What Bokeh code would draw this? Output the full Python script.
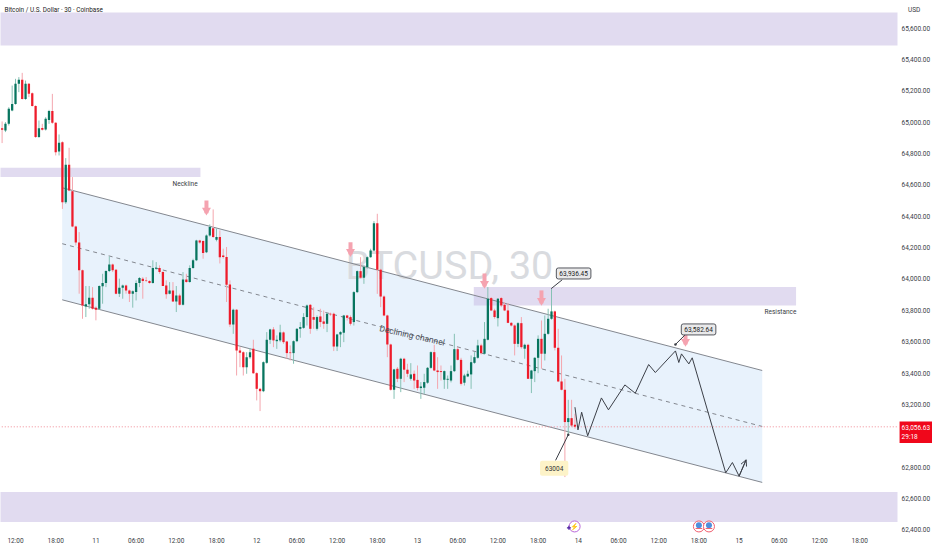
from bokeh.plotting import figure
from bokeh.embed import file_html
from bokeh.resources import INLINE
from bokeh.models import Label, FixedTicker, Arrow, OpenHead, NumeralTickFormatter
from bokeh.core.properties import value

FONT = "Roboto"

first_bar = -4
opens = [64962,64947,64990,65075,65117,65245,65271,65149,65245,65185,65103,64905,64964,64954,65015,65071,64996,64813,64873,64490,64728,64560,
64335,64233,64055,63825,63838,63880,63817,63810,63953,63974,64051,64093,64059,63906,63944,63959,63927,63906,63917,63974,
64002,63991,63987,63974,64065,64070,64044,63959,63906,63927,63857,63895,63836,63997,63980,64070,64119,64246,64242,64170,
64278,64324,64250,64267,64150,64140,63965,63710,63803,63544,63533,63437,63501,63554,63399,63299,63284,63465,63612,63678,
63603,63608,63659,63601,63531,63527,63603,63682,63688,63757,63835,63757,63682,63761,63729,63714,63778,63778,63569,63646,
63657,63767,63757,63725,63916,64050,64008,64076,64139,64182,64356,64059,63888,63767,63582,63293,63427,63363,63491,63421,
63363,63395,63356,63304,63306,63338,63433,63533,63416,63412,63357,63357,63352,63412,63552,63484,63338,63378,63391,63465,
63497,63576,63523,63612,63878,63799,63750,63878,63835,63799,63720,63703,63586,63718,63555,63580,63363,63412,63497,63618,
63523,63650,63746,63793,63561,63346,63293,63087,63112,63070]
highs = [65005,65001,65096,65234,65277,65288,65315,65266,65250,65190,65108,65011,64990,65032,65079,65181,65000,64922,64878,64771,64837,64650,
64340,64299,64060,63955,63955,63948,63825,63959,64033,64055,64144,64098,64064,64002,63964,63964,63932,63927,63991,64012,
64012,64012,63991,64119,64108,64087,64049,63991,63980,63980,63955,63906,64044,64033,64087,64129,64250,64250,64246,64284,
64348,64444,64322,64310,64193,64204,63991,63810,63808,63565,63538,63533,63559,63612,63405,63305,63474,63661,63682,63693,
63640,63708,63665,63605,63576,63608,63686,63725,63782,63837,63840,63820,63767,63810,63799,63782,63785,63785,63650,63667,
63771,63771,63767,63922,64054,64139,64086,64144,64193,64369,64416,64065,63895,63772,63587,63427,63438,63497,63497,63459,
63463,63416,63448,63342,63395,63438,63538,63580,63501,63448,63416,63384,63448,63650,63565,63497,63395,63416,63512,63533,
63612,63587,63725,63948,63885,63810,63878,63885,63852,63846,63725,63710,63725,63757,63587,63587,63420,63501,63640,63735,
63767,63810,63936,63798,63682,63512,63363,63229,63229,63140]
lows = [64867,64937,64979,65070,65112,65192,65145,65143,65160,65100,64900,64900,64947,64947,64990,64990,64788,64788,64447,64479,64560,64330,
64214,63906,63746,63757,63810,63805,63736,63804,63842,63948,64044,64044,63902,63885,63874,63906,63853,63817,63863,63948,
63874,63980,63970,63970,64059,64033,63955,63874,63902,63853,63789,63831,63831,63976,63976,64065,64114,64225,64129,64165,
64270,64262,64240,64099,64130,63853,63693,63650,63384,63437,63384,63395,63491,63395,63225,63157,63278,63459,63586,63565,
63554,63597,63586,63491,63480,63459,63597,63625,63682,63703,63650,63682,63671,63693,63682,63661,63765,63540,63540,63565,
63597,63735,63703,63703,63910,64003,63969,64065,64135,64178,63905,63820,63762,63501,63288,63235,63342,63278,63342,63374,
63352,63299,63289,63235,63267,63331,63427,63412,63299,63352,63299,63299,63340,63406,63480,63320,63320,63374,63299,63459,
63491,63518,63518,63608,63795,63746,63697,63820,63795,63718,63697,63512,63565,63555,63491,63363,63272,63342,63399,63427,
63480,63644,63740,63544,63342,63289,62736,63012,63055,63044]
closes = [64952,64990,65086,65117,65245,65271,65149,65245,65181,65103,64905,64962,64952,65022,65071,64996,64809,64869,64490,64728,64564,64335,
64233,64055,63831,63838,63880,63810,63804,63955,63974,64051,64093,64055,63906,63944,63959,63927,63906,63921,63974,64006,
63987,63987,63974,64070,64072,64044,63955,63902,63927,63857,63895,63836,63997,63980,64070,64119,64246,64233,64165,64278,
64331,64267,64267,64139,64140,63963,63710,63803,63544,63529,63437,63501,63533,63399,63299,63284,63469,63612,63678,63608,
63612,63659,63597,63527,63527,63603,63682,63693,63757,63831,63682,63740,63757,63725,63714,63778,63774,63569,63646,63661,
63767,63752,63714,63916,64050,64008,64076,64139,64182,64356,64059,63888,63767,63582,63293,63423,63363,63491,63421,63395,
63391,63352,63304,63314,63342,63433,63533,63416,63406,63406,63412,63363,63412,63552,63484,63331,63384,63395,63469,63501,
63576,63527,63618,63874,63799,63757,63874,63831,63799,63720,63703,63586,63718,63565,63580,63363,63416,63497,63618,63523,
63650,63746,63793,63561,63346,63293,63087,63112,63065,63056]

last_price = 63056.63
price_ticks = [62400,62600,62800,63200,63400,63600,63800,64000,64200,64400,64600,64800,65000,65200,65400,65600]
time_labels = ["12:00","18:00","11","06:00","12:00","18:00","12","06:00","12:00","18:00","13","06:00",
               "12:00","18:00","14","06:00","12:00","18:00","15","06:00","12:00","18:00"]
bars_per_label = 12
pane_end = 263.28

band_left = [-5, 136.8, -5, -5]
band_right = [55.2, 233, pane_end, pane_end]
band_top = [64710, 63948, 65700, 62640]
band_bottom = [64650, 63831, 65490, 62449]

channel_x = [13.94, 222.9]
channel_top = [64582, 63416]
channel_mid = [64225, 63059]
channel_bottom = [63867, 62702]

path_x = [167,167.9,169,170.8,174.9,177,181.9,185,189,191,197,198,198.8,201,202,212,214,216,218.1]
path_y = [63182,63037,63150,62999,63241,63165,63324,63271,63454,63403,63541,63467,63522,63458,63497,62763,62829,62742,62846]

marker_x = [57,100,140,157,200]
marker_top = [64501,64235,64035,63927,63652]
marker_tip = [64420,64156,63952,63844,63582]

RED, GREEN = "#ee1c2b", "#08755f"
PALE_RED, PALE_GREEN = "#f4a6ae", "#86c1b4"
TEXT = "#3a3d45"

p = figure(frame_width=932, frame_height=533, width=932, height=550, output_backend="svg", toolbar_location=None,
           x_range=(-4.48, 273.73), y_range=(62376, 65776.7), y_axis_location="right",
           min_border_left=0, min_border_top=0, min_border_right=0, min_border_bottom=17,
           outline_line_color=None, background_fill_color="white", border_fill_color="white")
p.grid.visible = False

for ax in (p.xaxis[0], p.yaxis[0]):
    ax.axis_line_color = None
    ax.major_tick_line_color = None
    ax.minor_tick_line_color = None
    ax.major_tick_out = 0
    ax.major_tick_in = 0
    ax.minor_tick_out = 0
    ax.minor_tick_in = 0
    ax.major_label_text_font = FONT
    ax.major_label_text_font_size = "6.5px"
    ax.major_label_text_color = TEXT
p.xaxis[0].major_label_standoff = 3
p.yaxis[0].major_label_standoff = -31

tick_positions = [i * bars_per_label for i in range(len(time_labels))]
p.xaxis[0].ticker = FixedTicker(ticks=tick_positions)
p.xaxis[0].major_label_overrides = {t: s for t, s in zip(tick_positions, time_labels)}
p.yaxis[0].ticker = FixedTicker(ticks=price_ticks)
p.yaxis[0].formatter = NumeralTickFormatter(format="0,0.00")

# channel
p.patch(channel_x + channel_x[::-1], channel_top + channel_bottom[::-1], fill_color="#e8f2fc", line_color=None)

# watermark
p.text(x=[98.5], y=[64086], text=["BTCUSD, 30"], text_font=value(FONT), text_font_size="39.5px",
       text_color="#d9dbdf", text_align="left", text_baseline="middle")

# zones
p.quad(left=band_left, right=band_right, top=band_top, bottom=band_bottom,
       fill_color="#c9bde3", fill_alpha=0.55, line_color=None)

p.line(channel_x, channel_top, line_color="#83878f", line_width=1)
p.line(channel_x, channel_bottom, line_color="#83878f", line_width=1)
p.line(channel_x, channel_mid, line_color="#83878f", line_width=1, line_dash="4 4")

# candles
xs = [first_bar + i for i in range(len(opens))]
up = [c >= o for o, c in zip(opens, closes)]
p.segment(x0=xs, x1=xs, y0=lows, y1=highs, line_width=1,
          line_color=[PALE_GREEN if u else PALE_RED for u in up])
p.vbar(x=xs, width=0.68, top=[max(o, c) for o, c in zip(opens, closes)],
       bottom=[min(o, c) for o, c in zip(opens, closes)],
       fill_color=[GREEN if u else RED for u in up], line_color=None)

# last price line
p.line([-5, pane_end], [last_price, last_price], line_color="#f08a94", line_width=1, line_dash="1 2")

# forecast path
p.line(path_x, path_y, line_color="#3c4048", line_width=1)
p.add_layout(Arrow(x_start=path_x[-2], y_start=path_y[-2], x_end=path_x[-1], y_end=path_y[-1],
                   line_color="#3c4048", line_width=1,
                   end=OpenHead(size=6, line_color="#3c4048", line_width=1)))

# pink arrows
p.segment(x0=marker_x, x1=marker_x, y0=marker_top, y1=marker_tip, line_color="#f5a3b0", line_width=4)
p.scatter(x=marker_x, y=[t + 18 for t in marker_tip], marker="inverted_triangle", size=9,
          fill_color="#f5a3b0", line_color=None)

# callout pointers
p.segment(x0=[159.9, 197, 161.2], y0=[63938, 63582, 62842], x1=[163.2, 200, 165], y1=[63995, 63646, 63006],
          line_color="#3a3d45", line_width=1)
p.scatter(x=[197, 165], y=[63582, 63006], size=2.5, fill_color="#3a3d45", line_color=None)

# text annotations
def note(x, y, text, **kw):
    opts = dict(text_font=FONT, text_font_size="6.5px", text_color=TEXT, text_baseline="middle")
    opts.update(kw)
    p.add_layout(Label(x=x, y=y, text=text, **opts))

note(46.9, 64606, "Neckline", text_align="left")
note(223.6, 63788, "Resistance", text_align="left")
note(118.4, 63640, "Declining channel", text_align="center", angle=-12.6, angle_units="deg",
     text_font_size="8.5px", text_color="#4a4e57")
for cx, cy, txt in [(166.6, 64035, "63,936.45"), (203.9, 63678, "63,582.64")]:
    note(cx, cy, txt, text_align="center", background_fill_color="#e9e9ea",
         border_line_color="#55585f", border_line_width=1, padding=3, border_radius=2, text_color="#222")
note(160.8, 62793, "63004", text_align="center", background_fill_color="#fdf3c8", padding=5,
     border_radius=2, text_color="#333")

note(-3.3, 65713, "Bitcoin / U.S. Dollar · 30 · Coinbase", text_align="left", text_color="#222", text_font_size="6.4px")

# price tag and currency on the axis
note(263.9, last_price - 35, "63,056.63\n29:18", text_align="left", text_color="white",
     background_fill_color="#f0071b", padding=2)
note(266.4, 65713, "USD", text_align="left")

# event icons
p.scatter(x=[166.9], y=[62421], size=11, fill_color="white", line_color="#b765d8", line_width=1)
p.text(x=[166.9], y=[62421], text=["⚡"], text_font_size="7px", text_color="#8e44c6",
       text_align="center", text_baseline="middle")
p.scatter(x=[165.2], y=[62412], marker="cross", size=4, line_color="#4b1fa0", line_width=1.2)
flag_x = [204, 207]
p.scatter(x=flag_x, y=[62421, 62421], size=11, fill_color="white", line_color="#ef5f70", line_width=1)
p.scatter(x=flag_x, y=[62428, 62428], size=6, fill_color="#4f8fdc", line_color=None)
p.segment(x0=[f - 1 for f in flag_x], x1=[f + 1 for f in flag_x], y0=[62408, 62408], y1=[62408, 62408],
          line_color="#ef5f70", line_width=1)

open("out.html", "w").write(file_html(p, INLINE))
